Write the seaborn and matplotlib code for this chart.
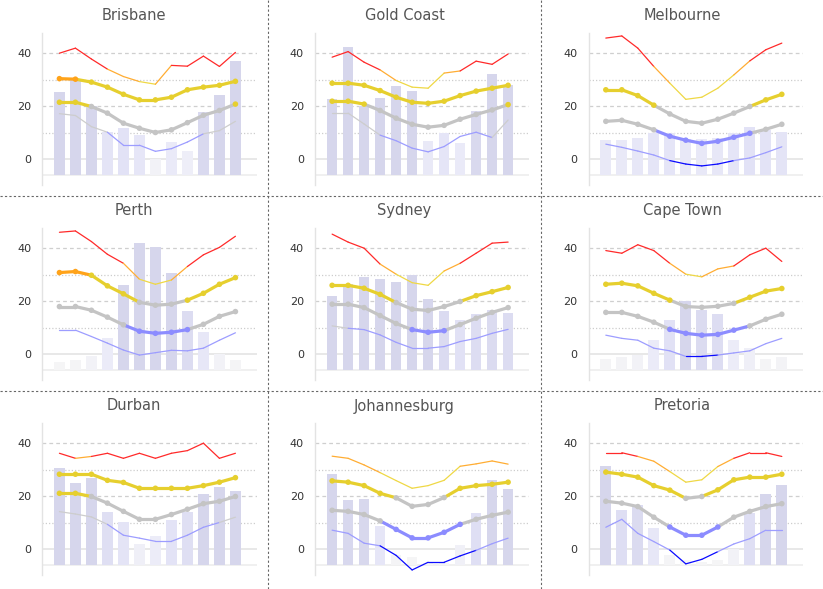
import numpy as np
import pandas as pd
import matplotlib
matplotlib.use("Agg")
import matplotlib.pyplot as plt
import seaborn as sns
from matplotlib.lines import Line2D

sns.set_theme(style="white")
plt.rcParams['font.family'] = ['DejaVu Sans']

MONTHS = ["Jan", "Feb", "Mar", "Apr", "May", "Jun", "Jul", "Aug", "Sep", "Oct", "Nov", "Dec"]
CITIES = ["Brisbane", "Gold Coast", "Melbourne", "Perth", "Sydney", "Cape Town",
          "Durban", "Johannesburg", "Pretoria"]
Y_TICKS = [0, 20, 40]

REC_HIGH = {
    "Brisbane":     [40.0, 41.9, 37.8, 34.0, 31.2, 29.3, 28.3, 35.4, 35.1, 38.9, 35.0, 40.3],
    "Gold Coast":   [38.5, 40.6, 36.6, 33.7, 29.7, 27.2, 26.8, 32.5, 33.3, 37.0, 35.8, 39.7],
    "Melbourne":    [45.7, 46.5, 41.9, 35.0, 28.7, 22.6, 23.4, 26.8, 31.8, 37.1, 41.3, 43.8],
    "Perth":        [46.0, 46.5, 42.5, 37.7, 34.3, 28.3, 26.4, 28.0, 33.1, 37.5, 40.3, 44.5],
    "Sydney":       [45.3, 42.3, 40.0, 34.0, 30.2, 27.0, 26.0, 31.4, 34.3, 38.1, 41.9, 42.3],
    "Cape Town":    [39.1, 38.1, 41.3, 39.1, 34.3, 30.2, 29.2, 32.2, 33.3, 37.5, 40.0, 35.0],
    "Durban":       [36.2, 34.3, 35.0, 36.2, 34.3, 36.2, 34.3, 36.2, 37.2, 40.0, 34.3, 36.2],
    "Johannesburg": [35.1, 34.3, 31.8, 28.9, 25.9, 23.0, 24.0, 26.0, 31.3, 32.2, 33.3, 32.1],
    "Pretoria":     [36.4, 36.4, 35.0, 33.2, 29.3, 25.3, 26.2, 31.2, 34.3, 36.4, 36.4, 35.0],
}
MEAN_MAX = {
    "Brisbane":     [30.4, 30.2, 29.1, 27.2, 24.5, 22.4, 22.4, 23.4, 26.2, 27.2, 27.9, 29.4],
    "Gold Coast":   [28.7, 28.7, 27.9, 25.9, 23.4, 21.5, 21.1, 21.9, 24.0, 25.7, 26.8, 27.9],
    "Melbourne":    [26.2, 26.2, 24.0, 20.4, 17.1, 14.3, 13.6, 15.1, 17.4, 19.9, 22.4, 24.5],
    "Perth":        [30.8, 31.2, 29.8, 25.8, 22.8, 19.6, 18.5, 18.9, 20.4, 23.0, 26.4, 28.9],
    "Sydney":       [26.0, 26.0, 24.9, 22.6, 19.5, 17.0, 16.5, 18.0, 19.9, 22.1, 23.6, 25.2],
    "Cape Town":    [26.4, 26.8, 25.8, 23.0, 20.4, 18.0, 17.7, 18.1, 19.2, 21.5, 23.8, 24.8],
    "Durban":       [28.3, 28.3, 28.3, 26.0, 25.2, 23.0, 23.0, 23.0, 23.0, 24.0, 25.3, 27.0],
    "Johannesburg": [25.8, 25.3, 24.0, 21.1, 19.4, 16.2, 16.9, 19.5, 23.0, 24.0, 24.5, 25.3],
    "Pretoria":     [29.1, 28.3, 27.2, 24.0, 22.3, 19.2, 19.9, 22.4, 26.2, 27.2, 27.2, 28.3],
}
MEAN_MIN = {
    "Brisbane":     [21.5, 21.5, 19.9, 17.4, 13.6, 11.7, 10.1, 11.1, 13.8, 16.6, 18.4, 20.8],
    "Gold Coast":   [21.9, 21.9, 20.8, 18.4, 15.5, 13.2, 12.1, 12.8, 15.1, 16.9, 18.6, 20.6],
    "Melbourne":    [14.3, 14.7, 13.2, 11.1, 8.7, 7.2, 6.0, 6.8, 8.3, 9.8, 11.3, 13.2],
    "Perth":        [18.0, 18.0, 16.6, 14.0, 11.1, 8.7, 7.9, 8.3, 9.3, 11.3, 14.3, 16.1],
    "Sydney":       [18.9, 18.9, 17.6, 14.6, 11.6, 9.3, 8.3, 8.9, 11.2, 13.6, 15.8, 17.6],
    "Cape Town":    [15.8, 15.8, 14.3, 12.1, 9.4, 7.9, 7.2, 7.5, 9.1, 10.7, 13.2, 15.1],
    "Durban":       [21.1, 21.1, 19.9, 17.4, 14.3, 11.3, 11.3, 13.1, 15.1, 17.2, 18.1, 19.9],
    "Johannesburg": [14.7, 14.3, 13.1, 10.7, 7.5, 4.3, 4.3, 6.4, 9.4, 11.3, 12.8, 14.0],
    "Pretoria":     [18.1, 17.4, 16.1, 12.1, 8.4, 5.3, 5.3, 8.4, 12.1, 14.3, 16.1, 17.2],
}
REC_LOW = {
    "Brisbane":     [17.2, 16.5, 12.3, 10.2, 5.3, 5.3, 3.0, 4.0, 6.5, 9.6, 10.8, 14.3],
    "Gold Coast":   [17.4, 17.4, 13.3, 9.1, 7.0, 4.2, 2.8, 4.8, 8.6, 10.2, 8.2, 14.8],
    "Melbourne":    [5.7, 4.5, 3.1, 1.6, -0.5, -1.8, -2.5, -1.8, -0.5, 0.5, 2.5, 4.7],
    "Perth":        [9.1, 9.1, 6.7, 4.2, 1.6, -0.3, 0.6, 1.5, 1.3, 2.3, 5.3, 8.1],
    "Sydney":       [10.7, 9.8, 9.3, 7.3, 4.5, 2.3, 2.3, 2.9, 4.8, 6.0, 7.9, 9.4],
    "Cape Town":    [7.2, 6.0, 5.3, 2.3, 1.3, -0.8, -0.8, -0.3, 0.5, 1.3, 4.0, 6.0],
    "Durban":       [14.2, 13.3, 12.2, 9.4, 5.3, 4.2, 3.0, 3.0, 5.3, 8.3, 10.1, 12.1],
    "Johannesburg": [7.2, 6.0, 2.3, 1.3, -2.3, -7.8, -4.9, -4.9, -2.5, -0.4, 2.1, 4.2],
    "Pretoria":     [8.3, 11.3, 6.0, 2.9, -0.3, -5.5, -3.8, -0.9, 2.0, 4.0, 7.2, 7.2],
}
# top of each rainfall bar, in the chart's vertical units (bars rise from BASE)
RAIN_TOP = {
    "Brisbane":     [25.4, 29.9, 19.9, 10.4, 11.8, 9.2, 0.0, 6.5, 3.1, 17.9, 24.3, 37.1],
    "Gold Coast":   [22.8, 42.4, 20.1, 23.1, 27.7, 25.9, 6.9, 9.9, 6.2, 18.2, 32.2, 28.0],
    "Melbourne":    [7.3, 7.3, 8.2, 9.8, 9.8, 7.5, 7.5, 8.2, 9.8, 12.3, 11.1, 10.3],
    "Perth":        [-3.1, -2.1, -0.5, 6.0, 26.2, 41.9, 40.4, 30.6, 16.2, 8.4, 0.0, -2.1],
    "Sydney":       [22.0, 26.5, 29.2, 28.4, 27.3, 29.9, 20.9, 16.4, 13.0, 15.3, 16.6, 15.7],
    "Cape Town":    [-1.8, -1.1, -0.3, 5.4, 13.0, 20.1, 16.7, 15.2, 5.2, 2.3, -1.8, -1.1],
    "Durban":       [30.7, 24.9, 26.9, 14.1, 10.3, 2.0, 5.0, 11.1, 14.1, 20.9, 23.5, 22.0],
    "Johannesburg": [28.4, 18.6, 19.0, 8.9, -2.1, -3.1, -5.3, -5.0, 1.6, 13.8, 26.2, 22.8],
    "Pretoria":     [31.4, 14.8, 16.7, 8.2, -2.1, -4.0, -4.7, -4.0, 0.0, 13.8, 20.9, 24.3],
}
BASE = -6.0

THICK = dict(blue2="#0000ff", blue="#8c8cff", gray="#c4c4c4", yellow="#e6cf2e",
             orange="#ffa31a", red="#ff2a2a")
THIN = dict(blue2="#0a0aff", blue="#9d9dff", gray="#cdcdcd", yellow="#efd845",
            orange="#ffad33", red="#ff2a2a")


def band(v):
    if v >= 35:
        return "red"
    if v >= 30:
        return "orange"
    if v >= 20:
        return "yellow"
    if v >= 10:
        return "gray"
    if v >= 0:
        return "blue"
    return "blue2"


def bar_color(t):
    stops = [-3.0, 5.0, 12.0, 20.0]
    r = np.interp(t, stops, [245, 236, 226, 214])
    g = np.interp(t, stops, [245, 236, 226, 214])
    b = np.interp(t, stops, [246, 248, 246, 236])
    return (r / 255, g / 255, b / 255)


def seg_line(ax, vals, lw, pal_src, zorder, markers=False):
    rows, pal = [], {}
    for i in range(len(vals) - 1):
        pal[i] = pal_src[band((vals[i] + vals[i + 1]) / 2)]
        rows.append((i, vals[i], i))
        rows.append((i + 1, vals[i + 1], i))
    df = pd.DataFrame(rows, columns=["x", "y", "seg"])
    sns.lineplot(data=df, x="x", y="y", hue="seg", palette=pal, lw=lw,
                 legend=False, estimator=None, sort=False, ax=ax, zorder=zorder,
                 solid_capstyle="round")
    if markers:
        pdf = pd.DataFrame({"x": range(len(vals)), "y": vals,
                            "m": [str(i) for i in range(len(vals))]})
        mpal = {str(i): pal_src[band(v)] for i, v in enumerate(vals)}
        sns.scatterplot(data=pdf, x="x", y="y", hue="m", palette=mpal, s=16,
                        edgecolor="none", legend=False, ax=ax, zorder=zorder + 0.1)


W, H = 823, 589
fig = plt.figure(figsize=(W / 100, H / 100), dpi=100)
fig.patch.set_facecolor("white")

col_left = [42.3, 315.0, 588.7]
col_center = [134, 404.5, 682]
ax_w = 214.4
ax_top0 = 33.3
ax_h = 151.7

for k, city in enumerate(CITIES):
    r, c = divmod(k, 3)
    top = ax_top0 + 195 * r
    ax = fig.add_axes([col_left[c] / W, 1 - (top + ax_h) / H, ax_w / W, ax_h / H])
    ax.set_facecolor("white")

    # grid
    for g in (40, 20):
        ax.axhline(g, color="#cfcfcf", lw=0.9, ls=(0, (3, 2.5)), zorder=0.2)
    for g in (30, 10):
        ax.axhline(g, color="#cdcdcd", lw=0.9, ls=(0, (1, 1.6)), zorder=0.2)
    ax.axhline(0, color="#e2e2e2", lw=1.1, zorder=0.2)
    ax.axhline(BASE, color="#ececec", lw=1.1, zorder=0.2)

    tops = RAIN_TOP[city]
    bdf = pd.DataFrame({"m": MONTHS, "h": [t - BASE for t in tops]})
    bpal = {m: bar_color(t) for m, t in zip(MONTHS, tops)}
    sns.barplot(data=bdf, x="m", y="h", hue="m", palette=bpal, legend=False,
                bottom=BASE, width=0.67, errorbar=None, ax=ax, zorder=1,
                linewidth=0, saturation=1)

    seg_line(ax, REC_HIGH[city], 0.9, THIN, 3)
    seg_line(ax, MEAN_MAX[city], 2.3, THICK, 4, markers=True)
    seg_line(ax, MEAN_MIN[city], 2.3, THICK, 4, markers=True)
    seg_line(ax, REC_LOW[city], 0.9, THIN, 3)

    ax.set_xlim(-1.07, 12.33)
    ax.set_ylim(-9.7, 47.5)
    ax.set_xticks([])
    ax.set_yticks(Y_TICKS)
    ax.set_yticklabels([str(t) for t in Y_TICKS])
    ax.tick_params(axis="y", length=0, pad=8, labelsize=8, labelcolor="#333333")
    ax.set_xlabel("")
    ax.set_ylabel("")
    for s in ("top", "right", "bottom"):
        ax.spines[s].set_visible(False)
    ax.spines["left"].set_color("#e3e3e3")
    ax.spines["left"].set_linewidth(1)

    fig.text(col_center[c] / W, 1 - (16 + 195 * r) / H, city, ha="center",
             va="center", fontsize=10.5, color="#555555")

for xp in (268, 541):
    fig.add_artist(Line2D([xp / W, xp / W], [0, 1], transform=fig.transFigure,
                          color="#666666", lw=0.8, ls=(0, (2, 2))))
for yp in (196, 391):
    fig.add_artist(Line2D([0, 1], [1 - yp / H, 1 - yp / H], transform=fig.transFigure,
                          color="#666666", lw=0.8, ls=(0, (2, 2))))

fig.savefig("out.png", dpi=100, facecolor="white")
